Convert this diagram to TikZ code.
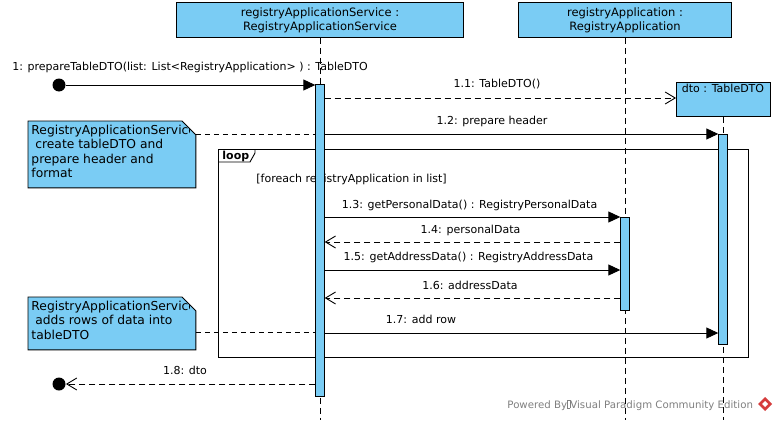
\documentclass[tikz,border=0pt]{standalone}
\usepackage{fontspec}
\setmainfont{DejaVu Sans}
\usetikzlibrary{arrows.meta}
\definecolor{vpblue}{RGB}{122,204,244}
\definecolor{vpgray}{RGB}{128,128,128}
\definecolor{vpred}{RGB}{214,60,60}
\begin{document}
\begin{tikzpicture}[x=1pt,y=-1pt,line width=0.9pt,
  lbl/.style={font=\fontsize{11}{12}\selectfont, inner sep=0, anchor=base},
  notetxt/.style={font=\fontsize{12.3}{14.5}\selectfont, inner sep=0, anchor=north west, align=left},
  lifebox/.style={draw, fill=vpblue, inner sep=0, align=center, font=\fontsize{11.5}{14}\selectfont},
  act/.style={draw, fill=vpblue, inner sep=0, minimum width=8.5pt},
  lifeline/.style={dash pattern=on 6pt off 4pt},
  sync/.style={-{Triangle[length=12pt,width=11pt]}},
  reply/.style={dash pattern=on 6pt off 4pt, -{Straight Barb[length=10pt,width=12pt]}},
  anchorline/.style={dash pattern=on 5pt off 4pt},
  dot/.style={circle, fill=black, inner sep=0, minimum size=13pt},
  notebox/.style={inner sep=0, anchor=north west},
]
\useasboundingbox (0,0) rectangle (775,420);
\fill[white] (0,0) rectangle (775,420);

% footer (under lifelines)
\node[anchor=base west, text=vpgray, inner sep=0, font=\fontsize{10.2}{11}\selectfont] (footer) at (507,408)
  {Powered By{\setlength\fboxsep{0pt}\setlength\fboxrule{0.4pt}\fbox{\vphantom{V}\hspace{2.5pt}}}Visual Paradigm Community Edition};
\fill[vpred] (765,397) -- (772,404) -- (765,411) -- (758,404) -- cycle;
\fill[white] (765,401) -- (768,404) -- (765,407) -- (762,404) -- cycle;

% lifeline heads
\node[lifebox, minimum width=287pt, minimum height=35pt, anchor=north west] (svc) at (176,2)
  {registryApplicationService :\\ RegistryApplicationService};
\node[lifebox, minimum width=213pt, minimum height=35pt, anchor=north west] (app) at (518,2)
  {registryApplication :\\ RegistryApplication};
\node[draw, fill=vpblue, minimum width=94pt, minimum height=34pt, anchor=north west, inner sep=0] (dto) at (676,82) {};
\node[lbl] (dtolbl) at (723,92) {dto : TableDTO};

% lifelines
\draw[lifeline] (svc.south) -- (svc.south |- 0,420);
\draw[lifeline] (app.south) -- (app.south |- 0,420);
\draw[lifeline] (dto.south) -- (dto.south |- 0,420);

% loop fragment
\node[draw, inner sep=0, minimum width=530pt, minimum height=208pt, anchor=north west] (loop) at (218,149) {};
\draw (218,162) -- (250,162) -- (255,153) -- (255,149);
\node[inner sep=0, anchor=base west, font=\fontsize{11}{12}\selectfont\bfseries] (looplbl) at (222,159.5) {loop};
\node[inner sep=0, anchor=base west, font=\fontsize{11}{12}\selectfont] (guard) at (256,182) {[foreach registryApplication in list]};

% activations
\node[act, minimum height=312pt, anchor=north] (a1) at (320,84) {};
\node[act, minimum height=93pt, anchor=north] (a2) at (625,217) {};
\node[act, minimum height=210pt, anchor=north] (a3) at (723,134) {};

% notes
\node[notebox, minimum width=167pt, minimum height=66pt] (n1) at (28,121) {};
\filldraw[fill=vpblue] (n1.north west) -- ([xshift=-14pt]n1.north east) -- ([yshift=-14pt]n1.north east)
  -- (n1.south east) -- (n1.south west) -- cycle;
\begin{scope}
\clip (28,121) rectangle (189,187);
\node[notetxt] (n1t) at (31,124.5) {RegistryApplicationService\\\ create tableDTO and\\prepare header and\\format};
\end{scope}
\draw[anchorline] ([yshift=-13pt]n1.north east) -- (a1.west |- 0,134);

\node[notebox, minimum width=167pt, minimum height=52pt] (n2) at (28,297) {};
\filldraw[fill=vpblue] (n2.north west) -- ([xshift=-14pt]n2.north east) -- ([yshift=-14pt]n2.north east)
  -- (n2.south east) -- (n2.south west) -- cycle;
\begin{scope}
\clip (28,297) rectangle (189,349);
\node[notetxt] (n2t) at (31,300.5) {RegistryApplicationService\\\ adds rows of data into\\tableDTO};
\end{scope}
\draw[anchorline] (n2.east |- 0,332) -- (a1.west |- 0,332);

% messages
\node[dot] (start) at (59,85) {};
\draw[sync] (start) -- (a1.west |- start);
\node[lbl] (m1) at (190,70.5) {1: prepareTableDTO(list: List<RegistryApplication> ) : TableDTO};

\draw[reply] (a1.east |- 0,98) -- (dto.west |- 0,98);
\node[lbl] (m11) at (497,87.5) {1.1: TableDTO()};

\draw[sync] (a1.east |- 0,134) -- (a3.north west);
\node[lbl] (m12) at (492,124.5) {1.2: prepare header};

\draw[sync] (a1.east |- 0,217) -- (a2.north west);
\node[lbl] (m13) at (469.5,208.5) {1.3: getPersonalData() : RegistryPersonalData};

\draw[reply] (a2.west |- 0,242) -- (a1.east |- 0,242);
\node[lbl] (m14) at (470.5,233.5) {1.4: personalData};

\draw[sync] (a1.east |- 0,270) -- (a2.west |- 0,270);
\node[lbl] (m15) at (468.5,260.5) {1.5: getAddressData() : RegistryAddressData};

\draw[reply] (a2.west |- 0,298) -- (a1.east |- 0,298);
\node[lbl] (m16) at (470,289.5) {1.6: addressData};

\draw[sync] (a1.east |- 0,333) -- (a3.west |- 0,333);
\node[lbl] (m17) at (421,323.5) {1.7: add row};

\node[dot] (end) at (59,384) {};
\draw[reply] (a1.west |- 0,384) -- (end);
\node[lbl] (m18) at (185,374.5) {1.8: dto};
\end{tikzpicture}
\end{document}
